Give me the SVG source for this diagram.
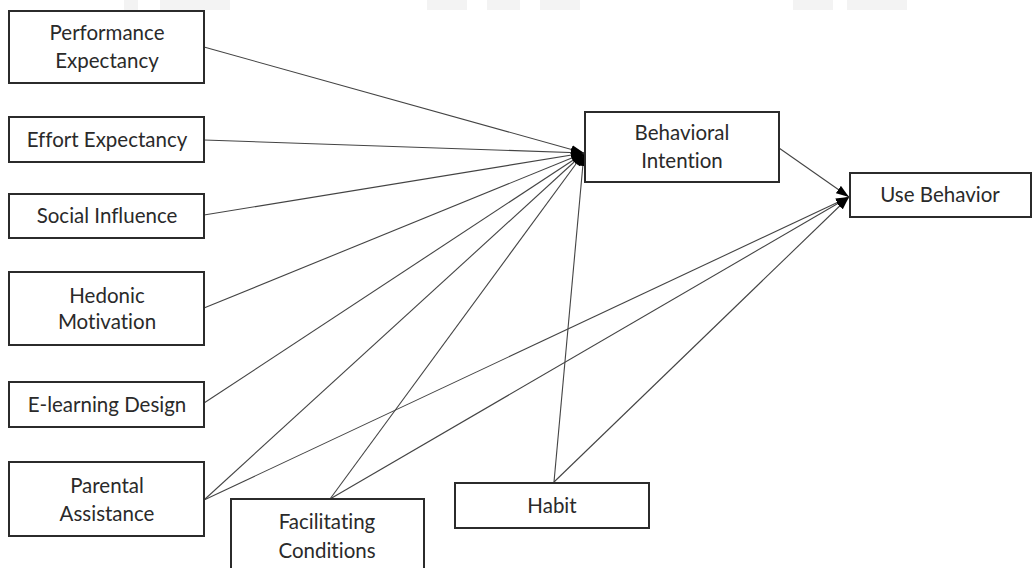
<svg xmlns="http://www.w3.org/2000/svg" width="1033" height="568" viewBox="0 0 1033 568">
  <style>
    .box { fill: #ffffff; stroke: #2b2b2b; stroke-width: 2; }
    .lbl { font-family: Lato, "Open Sans", "Liberation Sans", sans-serif; font-size: 20.5px; fill: #2a2a2a; text-anchor: middle; font-variant-ligatures: none; }
    .edge { stroke: #444444; stroke-width: 1.1; fill: none; marker-end: url(#head); }
    .wm { fill: #f3f3f3; }
  </style>
  <defs>
    <marker id="head" markerUnits="userSpaceOnUse" markerWidth="14" markerHeight="10" refX="13" refY="5" orient="auto">
      <path d="M0,0.5 L13,5 L0,9.5 Z" fill="#000000"/>
    </marker>
  </defs>

  <!-- faint top band -->
  <g id="band">
    <rect class="wm" x="124" y="0" width="14" height="10"/>
    <rect class="wm" x="160" y="0" width="70" height="10"/>
    <rect class="wm" x="427" y="0" width="40" height="10"/>
    <rect class="wm" x="487" y="0" width="33" height="10"/>
    <rect class="wm" x="540" y="0" width="40" height="10"/>
    <rect class="wm" x="793" y="0" width="40" height="10"/>
    <rect class="wm" x="847" y="0" width="60" height="10"/>
  </g>

  <!-- connectors -->
  <g id="connectors">
    <line class="edge" x1="204" y1="47" x2="584" y2="153"/>
    <line class="edge" x1="204" y1="140" x2="584" y2="153"/>
    <line class="edge" x1="204" y1="215" x2="584" y2="153"/>
    <line class="edge" x1="204" y1="308" x2="584" y2="153"/>
    <line class="edge" x1="204" y1="403" x2="584" y2="153"/>
    <line class="edge" x1="204" y1="500" x2="584" y2="153"/>
    <line class="edge" x1="330" y1="499" x2="584" y2="153"/>
    <line class="edge" x1="554" y1="482" x2="584" y2="153"/>
    <line class="edge" x1="204" y1="500" x2="849" y2="197"/>
    <line class="edge" x1="330" y1="499" x2="849" y2="197"/>
    <line class="edge" x1="554" y1="482" x2="849" y2="197"/>
    <line class="edge" x1="779" y1="148" x2="849" y2="197"/>
  </g>

  <g id="performance-expectancy">
    <rect class="box" x="9" y="11" width="195" height="72"/>
    <text class="lbl" x="107" y="40">Performance</text>
    <text class="lbl" x="107" y="68">Expectancy</text>
  </g>
  <g id="effort-expectancy">
    <rect class="box" x="9" y="117" width="195" height="45"/>
    <text class="lbl" x="107" y="147">Effort Expectancy</text>
  </g>
  <g id="social-influence">
    <rect class="box" x="9" y="194" width="195" height="44"/>
    <text class="lbl" x="107" y="223">Social Influence</text>
  </g>
  <g id="hedonic-motivation">
    <rect class="box" x="9" y="272" width="195" height="73"/>
    <text class="lbl" x="107" y="303">Hedonic</text>
    <text class="lbl" x="107" y="329">Motivation</text>
  </g>
  <g id="elearning-design">
    <rect class="box" x="9" y="382" width="195" height="45"/>
    <text class="lbl" x="107" y="412">E-learning Design</text>
  </g>
  <g id="parental-assistance">
    <rect class="box" x="9" y="462" width="195" height="74"/>
    <text class="lbl" x="107" y="493">Parental</text>
    <text class="lbl" x="107" y="521">Assistance</text>
  </g>
  <g id="facilitating-conditions">
    <rect class="box" x="231" y="499" width="193" height="80"/>
    <text class="lbl" x="327" y="529">Facilitating</text>
    <text class="lbl" x="327" y="558">Conditions</text>
  </g>
  <g id="habit">
    <rect class="box" x="455" y="483" width="194" height="45"/>
    <text class="lbl" x="552" y="513">Habit</text>
  </g>
  <g id="behavioral-intention">
    <rect class="box" x="585" y="112" width="194" height="70"/>
    <text class="lbl" x="682" y="140">Behavioral</text>
    <text class="lbl" x="682" y="168">Intention</text>
  </g>
  <g id="use-behavior">
    <rect class="box" x="850" y="173" width="181" height="44"/>
    <text class="lbl" x="940" y="202">Use Behavior</text>
  </g>
</svg>
